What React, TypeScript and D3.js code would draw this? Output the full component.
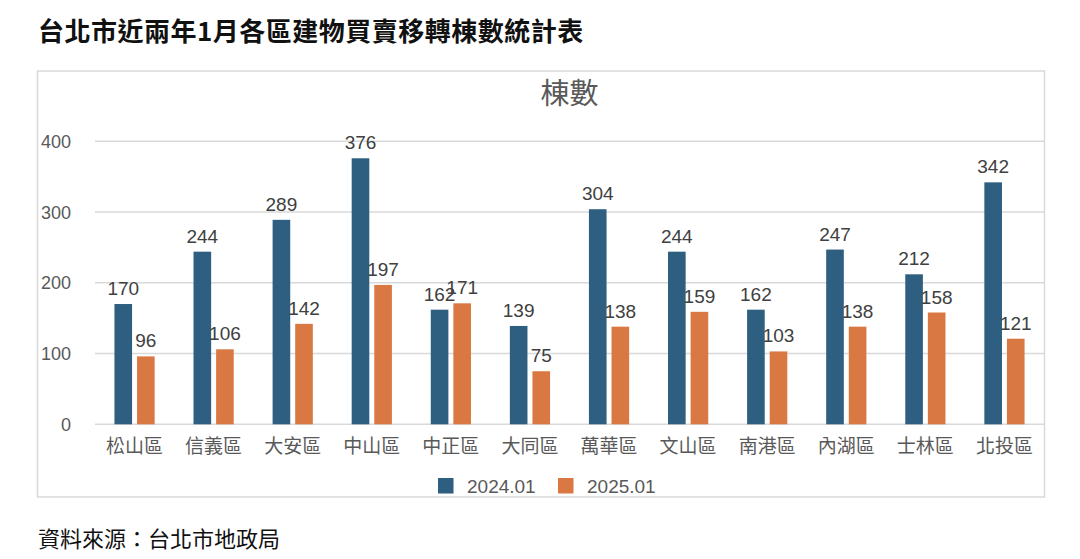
import React from "react";
import { scaleBand, scaleLinear } from "d3";

const districts = ["松山區", "信義區", "大安區", "中山區", "中正區", "大同區", "萬華區", "文山區", "南港區", "內湖區", "士林區", "北投區"];
const seriesNames = ["2024.01", "2025.01"];
const values2024 = [170, 244, 289, 376, 162, 139, 304, 244, 162, 247, 212, 342];
const values2025 = [96, 106, 142, 197, 171, 75, 138, 159, 103, 138, 158, 121];
const yTicks = [0, 100, 200, 300, 400];
const colors = ["#2e5f80", "#d97843"];

const W = 1080;
const H = 559;
const FONT = "'Liberation Sans', 'Noto Sans CJK TC', sans-serif";
const CJK = "'Noto Sans CJK TC', 'Liberation Sans', sans-serif";

export default function App() {
    const x0 = scaleBand().domain(districts).range([95, 1044]).padding(0);
    const x1 = scaleBand()
        .domain(seriesNames)
        .range([0, x0.bandwidth()])
        .paddingInner(0.22)
        .paddingOuter(0.86);
    const y = scaleLinear().domain([0, 400]).range([424.3, 141.3]);

    const series = [values2024, values2025];

    return (
        <div style={{ position: "absolute", left: 0, top: 0 }}>
            <svg width={W} height={H} style={{ display: "block", background: "#fff" }}>
                {/* 標題 */}
                <text x={38} y={41} fontSize={26} fontWeight="bold" letterSpacing={0.5} fill="#111" fontFamily={CJK}>
                    台北市近兩年1月各區建物買賣移轉棟數統計表
                </text>

                {/* 圖框 */}
                <rect x={37.5} y={71} width={1007} height={426} fill="none" stroke="#d9d9d9" strokeWidth={1.5} />

                <text x={(95 + 1044) / 2} y={104} fontSize={29} textAnchor="middle" fill="#595959" fontFamily={CJK}>
                    棟數
                </text>

                {/* 格線與Y軸 */}
                {yTicks.map(t => (
                    <g key={t}>
                        <line x1={95} x2={1044} y1={y(t)} y2={y(t)} stroke="#d9d9d9" strokeWidth={1.5} />
                        <text x={71} y={y(t) + 6.5} fontSize={18} textAnchor="end" fill="#595959" fontFamily={FONT}>
                            {t}
                        </text>
                    </g>
                ))}

                {/* 長條 */}
                {districts.map((d, i) => (
                    <g key={d} transform={`translate(${x0(d)},0)`}>
                        {series.map((vals, s) => {
                            const bx = x1(seriesNames[s]) as number;
                            const bw = x1.bandwidth();
                            return (
                                <g key={s}>
                                    <rect x={bx} y={y(vals[i])} width={bw} height={y(0) - y(vals[i])} fill={colors[s]} />
                                    <text
                                        x={bx + bw / 2}
                                        y={y(vals[i]) - 9}
                                        fontSize={19}
                                        textAnchor="middle"
                                        fill="#404040"
                                        fontFamily={FONT}
                                    >
                                        {vals[i]}
                                    </text>
                                </g>
                            );
                        })}
                        <text
                            x={x0.bandwidth() / 2}
                            y={453}
                            fontSize={19}
                            textAnchor="middle"
                            fill="#595959"
                            fontFamily={CJK}
                        >
                            {d}
                        </text>
                    </g>
                ))}

                {/* 圖例 */}
                {seriesNames.map((name, s) => {
                    const lx = 438 + s * 120;
                    return (
                        <g key={name}>
                            <rect x={lx} y={478} width={15.5} height={15.5} fill={colors[s]} />
                            <text x={lx + 29} y={493} fontSize={19} fill="#595959" fontFamily={FONT}>
                                {name}
                            </text>
                        </g>
                    );
                })}

                {/* 資料來源 */}
                <text x={38} y={547} fontSize={22} fill="#111" fontFamily={CJK}>
                    資料來源：台北市地政局
                </text>
            </svg>
        </div>
    );
}
